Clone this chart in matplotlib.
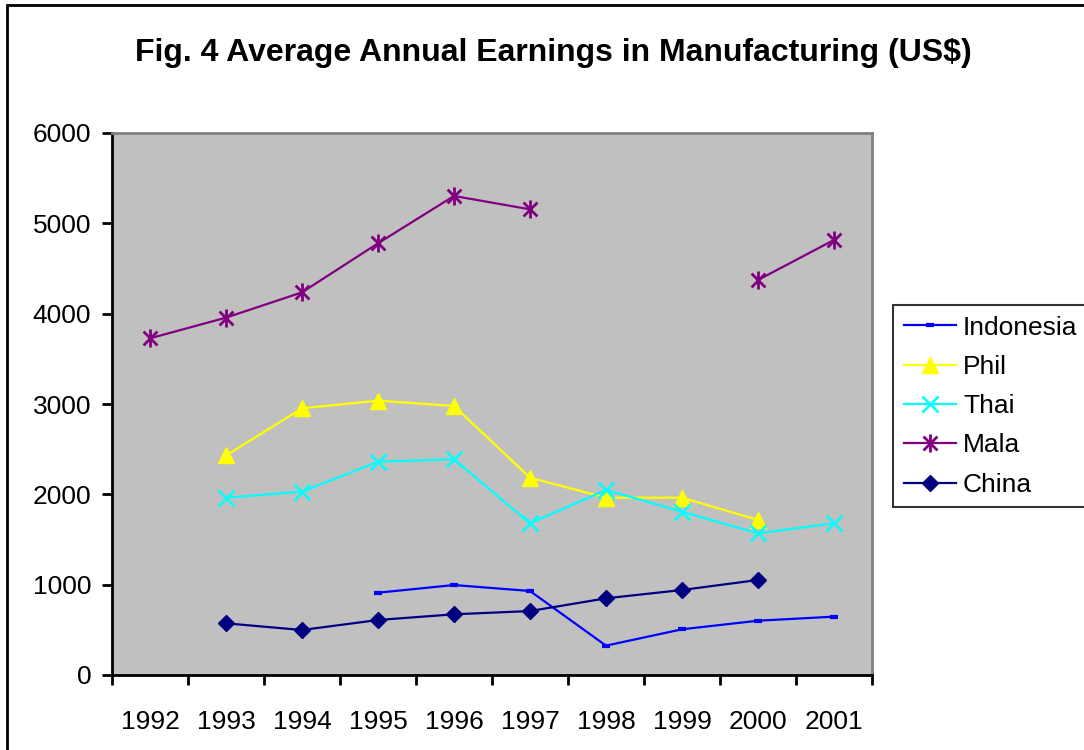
import numpy as np
import matplotlib

matplotlib.use("Agg")
import matplotlib.pyplot as plt
from matplotlib.path import Path
from matplotlib.patches import Rectangle

plt.rcParams["font.family"] = ["Liberation Sans", "DejaVu Sans"]

nan = np.nan
ANOS = ["1992", "1993", "1994", "1995", "1996", "1997", "1998", "1999", "2000", "2001"]
indonesia = [nan, nan, nan, 911, 996, 930, 325, 506, 601, 646]
phil = [nan, 2430, 2952, 3037, 2978, 2184, 1963, 1963, 1716, nan]
thai = [nan, 1963, 2029, 2361, 2388, 1679, 2048, 1808, 1568, 1679]
mala = [3727, 3956, 4236, 4779, 5303, 5155, nan, nan, 4373, 4816]
china = [nan, 572, 498, 609, 672, 708, 849, 941, 1052, nan]

# asterisco estilo Excel: um X com uma barra vertical
STAR = Path(
    [(-1, -1), (1, 1), (-1, 1), (1, -1), (0, -1.3), (0, 1.3)],
    [Path.MOVETO, Path.LINETO, Path.MOVETO, Path.LINETO, Path.MOVETO, Path.LINETO],
)

FS = 19

fig = plt.figure(figsize=(10.84, 7.5), dpi=100)
ax = fig.add_axes([112 / 1084, 75 / 750, 760 / 1084, 542 / 750])
ax.set_facecolor("#C0C0C0")

x = np.arange(len(ANOS)) + 0.5
ax.plot(x, indonesia, color="#0000FF", lw=1.6, marker="_", ms=6, mew=3, label="Indonesia")
ax.plot(x, phil, color="#FFFF00", lw=1.6, marker="^", ms=11, label="Phil")
ax.plot(x, thai, color="#00FFFF", lw=1.6, marker="x", ms=11, mew=1.8, label="Thai")
ax.plot(x, mala, color="#800080", lw=1.6, marker=STAR, ms=13, mew=2, label="Mala")
ax.plot(x, china, color="#000080", lw=1.6, marker="D", ms=8, label="China")

ax.set_xlim(0, len(ANOS))
ax.set_ylim(0, 6000)
ax.set_yticks(range(0, 6001, 1000))
ax.set_xticks(range(0, len(ANOS) + 1))
ax.set_xticklabels([])
ax.set_xticks(x, minor=True)
ax.set_xticklabels(ANOS, minor=True)
ax.tick_params(axis="x", which="major", length=7, width=2, direction="out")
ax.tick_params(axis="x", which="minor", length=0, pad=25, labelsize=FS)
ax.tick_params(axis="y", length=7, width=2, direction="out", pad=8, labelsize=FS)

for s in ("left", "bottom"):
    ax.spines[s].set_linewidth(2)
    ax.spines[s].set_color("black")
for s in ("top", "right"):
    ax.spines[s].set_linewidth(2)
    ax.spines[s].set_color("#808080")

fig.text(553 / 1084, 1 - 53 / 750, "Fig. 4 Average Annual Earnings in Manufacturing (US$)",
         ha="center", va="center", fontsize=23, fontweight="bold")

leg = ax.legend(loc="upper left", bbox_to_anchor=(893 / 1084, 1 - 305 / 750),
                bbox_transform=fig.transFigure, fontsize=FS, frameon=True,
                fancybox=False, borderpad=0.4, labelspacing=0.58, handlelength=2.0,
                handletextpad=0.25, borderaxespad=0)
leg.get_frame().set_edgecolor("black")
leg.get_frame().set_linewidth(1.5)

# moldura da figura (cortada à direita e embaixo)
fig.patches.append(Rectangle((7 / 1084, -0.1), 1.2, 1.1 - 5 / 750, transform=fig.transFigure,
                             fill=False, edgecolor="black", linewidth=2))

fig.savefig("out.png", dpi=100)
